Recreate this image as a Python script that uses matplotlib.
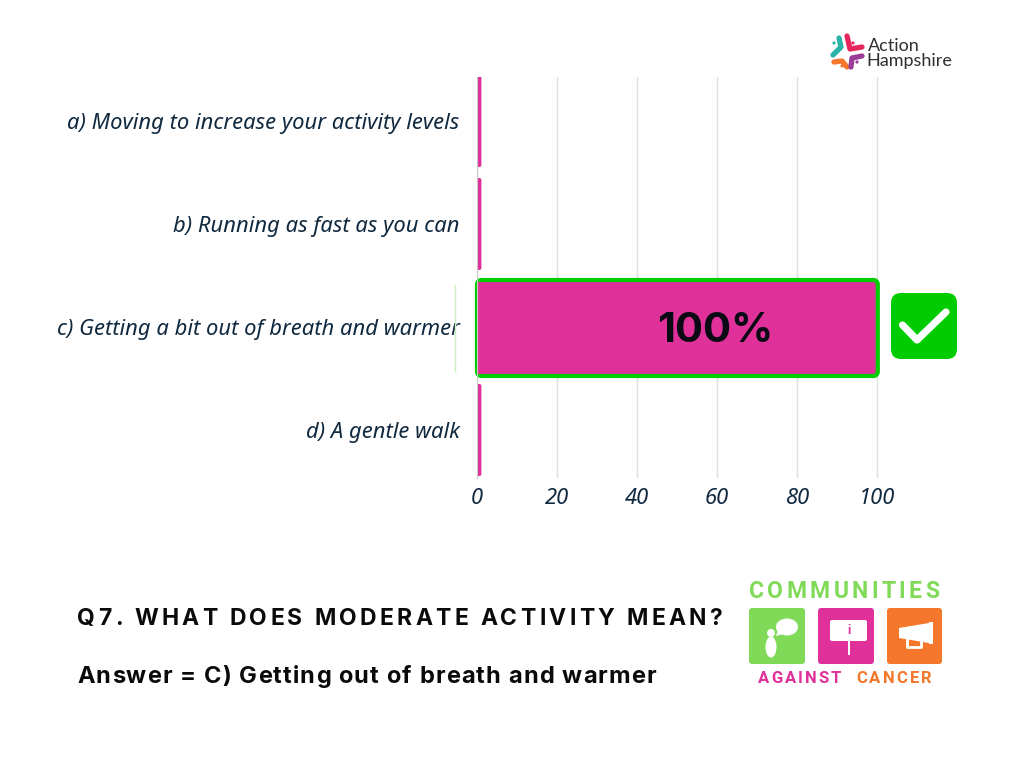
import matplotlib
matplotlib.use('Agg')
import matplotlib.pyplot as plt
from matplotlib.patches import FancyBboxPatch, Circle, Ellipse, Polygon, Rectangle
from matplotlib.font_manager import FontProperties

# data
categories = ['a) Moving to increase your activity levels',
              'b) Running as fast as you can',
              'c) Getting a bit out of breath and warmer',
              'd) A gentle walk']
percent = [0, 0, 100, 0]
x_ticks = [0, 20, 40, 60, 80, 100]
title = 'Q7. WHAT DOES MODERATE ACTIVITY MEAN?'
answer = 'Answer = C) Getting out of breath and warmer'

W, H = 1024, 768
PINK = '#E0309A'
GREEN = '#00CC00'
NAVY = '#10293F'
LIME = '#80DA58'
ORANGE = '#F4772B'
GRID = '#E0E0E0'

fig = plt.figure(figsize=(W / 100, H / 100), dpi=100, facecolor='white')

# chart area in pixels: x 477-957, y 77-478
ax = fig.add_axes([477 / W, 1 - 478 / H, 480 / W, 401 / H])
ax.set_xlim(0, 120)
step = 103
ax.set_ylim((478 - 121) / step, (77 - 121) / step)
for s in ax.spines.values():
    s.set_visible(False)
ax.set_axisbelow(True)
ax.grid(axis='x', color=GRID, linewidth=1.0)
ax.grid(axis='y', visible=False)
ax.set_xticks(x_ticks)
ax.set_xticklabels([str(t) for t in x_ticks], fontfamily='Noto Sans', style='italic',
                   fontsize=15.8, color=NAVY)
ax.set_yticks(range(len(categories)))
ax.set_yticklabels(categories, fontfamily='Noto Sans', style='italic', fontsize=15.8, color=NAVY)
ax.tick_params(axis='both', length=0)
ax.tick_params(axis='y', pad=12.5)
ax.tick_params(axis='x', pad=7)

# px per data unit
sx, sy = 4.0, float(step)
bar_h = 92 / step
for i, v in enumerate(percent):
    if v == 0:
        # zero bars still show as a thin rounded sliver
        ax.add_patch(FancyBboxPatch((0, i - bar_h / 2), 1.1, bar_h,
                                    boxstyle='round,pad=0,rounding_size=0.5',
                                    mutation_aspect=sx / sy, fc=PINK, ec='none', zorder=3))
    else:
        yc = i + 1 / step
        ax.add_patch(FancyBboxPatch((0, yc - 48 / step), v + 0.2, 96 / step,
                                    boxstyle='round,pad=0,rounding_size=1.2',
                                    mutation_aspect=sx / sy, fc=PINK, ec=GREEN,
                                    lw=3, zorder=3, clip_on=False))
        # left edge of the outline is much thinner than the others
        ax.add_patch(Rectangle((0.1, yc - 46 / step), 2, 92 / step, fc=PINK, ec='none', zorder=3.5))
        ax.text(v * 0.595, i, f'{v}%', ha='center', va='center_baseline', fontsize=30,
                fontweight='bold', fontfamily='Inter', color='#0A0A14', zorder=4)

# overlay in image pixels for annotation artwork
ov = fig.add_axes([0, 0, 1, 1], facecolor='none')
ov.set_xlim(0, W)
ov.set_ylim(H, 0)
ov.axis('off')


def rrect(x0, y0, x1, y1, r, color):
    ov.add_patch(FancyBboxPatch((x0, y0), x1 - x0, y1 - y0,
                                boxstyle=f'round,pad=0,rounding_size={r}', fc=color, ec='none'))


def spaced(s, x0, x1, y, size, color, weight='bold', family='Inter'):
    # matplotlib has no letter spacing, so place glyphs one by one
    rend = fig.canvas.get_renderer()
    prop = FontProperties(family=family, weight=weight, size=size)

    def adv(t):
        return (rend.get_text_width_height_descent(t + '|', prop, False)[0]
                - rend.get_text_width_height_descent('|', prop, False)[0])
    gap = (x1 - x0 - adv(s)) / (len(s) - 1)
    for i, ch in enumerate(s):
        ov.text(x0 + adv(s[:i]) + gap * i, y, ch, fontproperties=prop, color=color,
                ha='left', va='baseline')


# faint line beside the correct option
ov.plot([454.5, 454.5], [285, 371], color='#CBEFC0', lw=1)
# faint axis line between the bars
ov.plot([477, 477], [77, 478], color='#C8C8C8', lw=0.8, zorder=0)

# tick box
rrect(891, 293, 957, 359, 10, GREEN)
ov.plot([902.5, 917, 946], [325, 340, 312], color='white', lw=5.2,
        solid_capstyle='round', solid_joinstyle='round')

# bottom text
spaced(title, 77, 722, 625, 16.5, '#0A0A0A')
spaced(answer, 77, 656, 683, 17, '#0A0A0A')

# Action Hampshire logo
for pts, c in [([(839, 38), (841, 47), (833, 55)], '#2BB3A8'),
               ([(847, 36), (850, 49), (862, 47)], '#E8265E'),
               ([(834, 62), (842, 61), (847, 67)], ORANGE),
               ([(851, 67), (852, 58), (862, 56)], '#9B3D97')]:
    ov.plot(*zip(*pts), color=c, lw=3.8, solid_capstyle='round', solid_joinstyle='round')
for (cx, cy), c in [((834, 43), '#2BB3A8'), ((853, 43), '#E8265E'),
                    ((842, 66), ORANGE), ((857, 62), '#9B3D97')]:
    ov.add_patch(Circle((cx, cy), 1.6, fc=c, ec='none'))
ov.text(868, 51, 'Action', fontfamily='Lato', fontsize=13, color='#2F2F33', va='baseline', ha='left')
ov.text(866, 66, 'Hampshire', fontfamily='Lato', fontsize=13, color='#2F2F33', va='baseline', ha='left')

# Communities Against Cancer logo
spaced('COMMUNITIES', 749, 939, 598, 16.5, LIME, weight='bold', family='Roboto')
spaced('AGAINST', 758, 841, 683, 12, PINK, weight='bold', family='Roboto')
spaced('CANCER', 856, 932, 683, 12, ORANGE, weight='bold', family='Roboto')
rrect(749, 608, 805, 664, 3, LIME)
rrect(818, 608, 874, 664, 3, PINK)
rrect(887, 608, 942, 664, 3, ORANGE)
# person with speech bubble
ov.add_patch(Circle((771, 633), 4, fc='white', ec='none'))
ov.add_patch(Ellipse((771, 647), 11, 21, fc='white', ec='none'))
ov.add_patch(Ellipse((787, 627), 22, 17, fc='white', ec='none'))
ov.add_patch(Polygon([(778, 630), (776, 636), (783, 634)], fc='white', ec='none'))
# sign
rrect(830, 620, 867, 641, 2, 'white')
ov.add_patch(Rectangle((848.3, 641), 1.2, 14, fc='white', ec='none'))
ov.text(848.5, 631, 'i', color=PINK, fontsize=9, fontweight='bold', fontfamily='Roboto',
        ha='center', va='center')
# megaphone
ov.add_patch(Polygon([(899, 628), (929, 623), (929, 643), (899, 638)], fc='white', ec='none'))
ov.add_patch(Rectangle((929, 622), 4, 22, fc='white', ec='none'))
ov.plot([907, 907, 921, 921], [639, 646.5, 646.5, 642], color='white', lw=2)

fig.savefig('out.png', dpi=100)
